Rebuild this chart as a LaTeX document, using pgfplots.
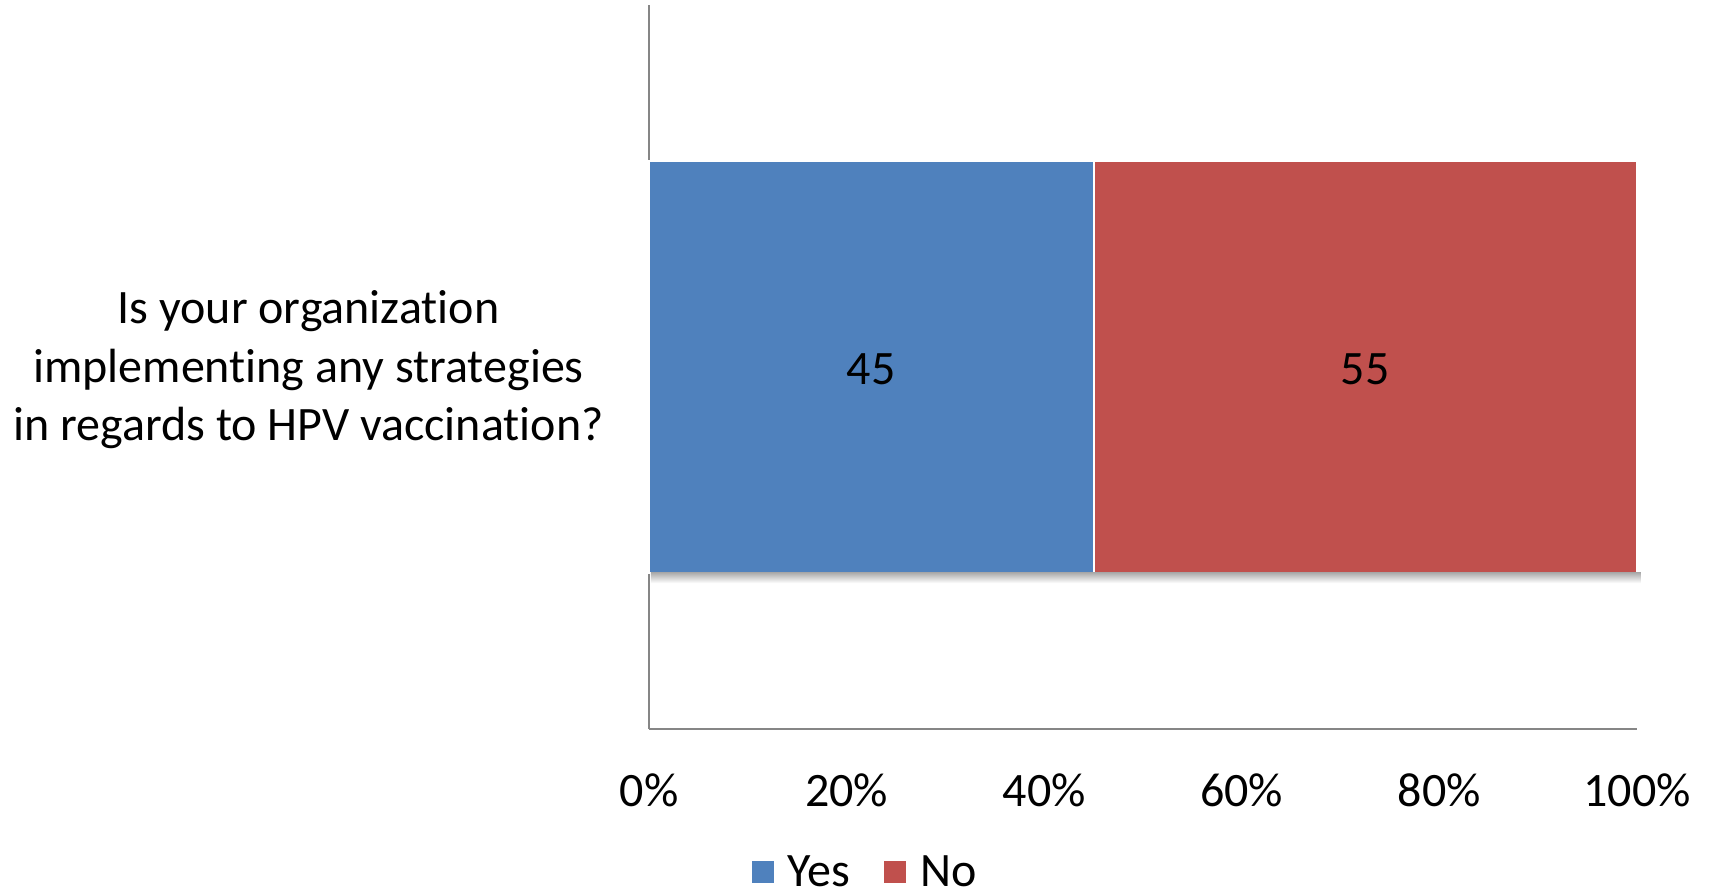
\documentclass[border=0pt]{standalone}
\usepackage{fontspec}
\setmainfont{Carlito}[Ligatures=NoCommon]
\usepackage{pgfplots}
\pgfplotsset{compat=1.18}

\definecolor{yesblue}{HTML}{4F81BD}
\definecolor{nored}{HTML}{C0504D}
\definecolor{axisgray}{HTML}{868686}

\newcommand{\chartfont}{\fontsize{24}{29.3}\selectfont}

\begin{document}
\begin{tikzpicture}
\useasboundingbox (0,0) rectangle (855.5pt,446.5pt);
\begin{axis}[
  at={(324.5pt,82pt)}, anchor=south west,
  scale only axis,
  width=494pt, height=362pt,
  xbar stacked,
  bar width=0.569,
  xmin=0, xmax=100, ymin=0, ymax=1,
  clip=false,
  axis lines*=left,
  axis line style={draw=axisgray, line width=1pt, -},
  major tick length=0pt,
  xtick={0,20,40,60,80,100},
  xticklabels={0\%,20\%,40\%,60\%,80\%,100\%},
  xticklabel style={font=\chartfont, anchor=base, yshift=-38.5pt, inner sep=0pt},
  ytick={0.5},
  yticklabels={{Is your organization\\implementing any strategies\\in regards to HPV vaccination?}},
  yticklabel style={font=\chartfont, align=center, anchor=east, inner sep=0pt,
    xshift=-22.5pt, yshift=-1.5pt},
  /pgf/number format/assume math mode=true,
  point meta=explicit,
  nodes near coords,
  every node near coord/.append style={font=\chartfont, color=black, anchor=center,
    yshift=-1pt},
  legend columns=2,
  legend style={draw=none, fill=none, font=\chartfont,
    at={(0.2186,-0.198)}, anchor=center,
    /tikz/every even column/.append style={column sep=14pt}},
  legend image code/.code={\fill[#1] (0pt,-6pt) rectangle (12pt,6pt); \path (16pt,0pt);},
]
% soft shadow under the bar
\fill[top color=black!32, bottom color=white, draw=none]
  (axis cs:0.2,0.2155) rectangle (axis cs:100.4,0.2015);
\addplot[fill=yesblue, draw=white, line width=1pt] coordinates {(45,0.5) [45]};
\addplot[fill=nored, draw=white, line width=1pt] coordinates {(55,0.5) [55]};
\legend{Yes,No}
\end{axis}
\end{tikzpicture}
\end{document}
